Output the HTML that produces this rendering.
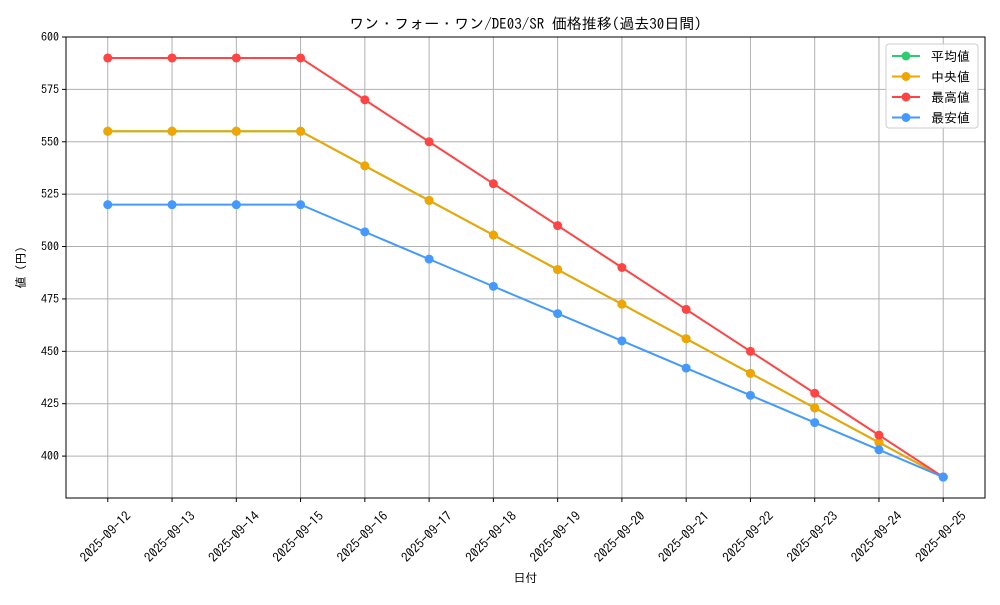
<!DOCTYPE html>
<html><head><meta charset="utf-8"><style>
body{margin:0;background:#fff}
svg text{font-family:"IPAGothic","Liberation Sans","Noto Sans CJK JP",sans-serif;fill:#000}
</style></head><body>
<svg id="c" width="1000" height="600" xmlns="http://www.w3.org/2000/svg"></svg>
<script>
const categories=["2025-09-12","2025-09-13","2025-09-14","2025-09-15","2025-09-16","2025-09-17","2025-09-18","2025-09-19","2025-09-20","2025-09-21","2025-09-22","2025-09-23","2025-09-24","2025-09-25"];
const meanValues=[555,555,555,555,538.5,522,505.5,489,472.5,456,439.5,423,406.5,390];
const medianValues=[555,555,555,555,538.5,522,505.5,489,472.5,456,439.5,423,406.5,390];
const maxValues=[590,590,590,590,570,550,530,510,490,470,450,430,410,390];
const minValues=[520,520,520,520,507,494,481,468,455,442,429,416,403,390];
const yTicks=[400,425,450,475,500,525,550,575,600];
const L=66,R=985,T=37,B=498,yMin=380,yMax=600;
const n=categories.length;
const step=(R-L)/(n-1+1.3);
const x=i=>L+step*0.65+i*step;
const y=v=>B-(v-yMin)/(yMax-yMin)*(B-T);
const svg=document.getElementById('c');const NS="http://www.w3.org/2000/svg";
function mk(t,a,txt){const e=document.createElementNS(NS,t);for(const k in a)e.setAttribute(k,a[k]);if(txt!==undefined)e.textContent=txt;svg.appendChild(e);return e;}
categories.forEach((c,i)=>{const g=mk('line',{x1:x(i),x2:x(i),y1:T,y2:B,stroke:'#b0b0b0','stroke-width':1});

const tk=mk('line',{x1:x(i),x2:x(i),y1:B,y2:B+4,stroke:'#000'});

const cx=x(i)-2,cy=B+39;
const t=mk('text',{x:cx,y:cy+4,'font-size':13,'text-anchor':'middle',transform:`rotate(-45 ${cx} ${cy})`},c);
});
yTicks.forEach(v=>{const g=mk('line',{x1:L,x2:R,y1:y(v),y2:y(v),stroke:'#b0b0b0','stroke-width':1});

const tk=mk('line',{x1:L-4,x2:L,y1:y(v),y2:y(v),stroke:'#000'});

const t=mk('text',{x:L-7,y:y(v)+4,'font-size':12,'text-anchor':'end'},String(v));
});
const fr=mk('rect',{x:L,y:T,width:R-L,height:B-T,fill:'none',stroke:'#000','stroke-width':1});

const series=[["mean",meanValues,"#2ecc71"],["median",medianValues,"#f0a500"],["max",maxValues,"#ff4444"],["min",minValues,"#4499ff"]];
series.forEach(([nm,vals,col])=>{
const p=mk('polyline',{points:vals.map((v,i)=>x(i)+','+y(v)).join(' '),fill:'none',stroke:col,'stroke-width':2});

vals.forEach((v,i)=>{const c=mk('circle',{cx:x(i),cy:y(v),r:4.5,fill:col});
});});
const tt=mk('text',{x:(L+R)/2,y:29,'font-size':15,'text-anchor':'middle'},"ワン・フォー・ワン/DE03/SR 価格推移(過去30日間)");

const xt=mk('text',{x:(L+R)/2,y:582,'font-size':12,'text-anchor':'middle'},"日付");

const yt=mk('text',{x:25,y:(T+B)/2,'font-size':12,'text-anchor':'middle',transform:`rotate(-90 25 ${(T+B)/2})`},"値 (円)");

const lg=mk('rect',{x:886,y:44,width:92,height:84,rx:3,fill:'#fff','fill-opacity':0.85,stroke:'#ccc'});

const labels=["平均値"," 中央値","最高値","最安値"];
series.forEach(([nm,vals,col],k)=>{const yy=56+k*20.5;
const l=mk('line',{x1:892,x2:920,y1:yy,y2:yy,stroke:col,'stroke-width':2});

const c=mk('circle',{cx:906,cy:yy,r:4.5,fill:col});

const t=mk('text',{x:931,y:yy+5,'font-size':13},labels[k]);
});
</script>
</body></html>
